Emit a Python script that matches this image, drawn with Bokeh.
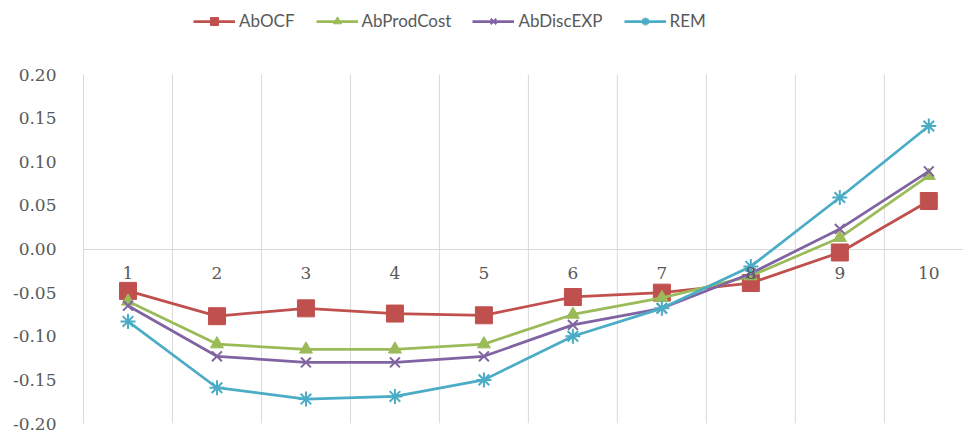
from bokeh.plotting import figure
from bokeh.models import Legend, LegendItem, FixedTicker, NumeralTickFormatter, ColumnDataSource
from bokeh.core.properties import value
from bokeh.embed import file_html
from bokeh.resources import INLINE

categories = [1, 2, 3, 4, 5, 6, 7, 8, 9, 10]
cat_labels = ["1", "2", "3", "4", "5", "6", "7", "8", "9", "10"]
ab_ocf = [-0.048, -0.077, -0.068, -0.074, -0.076, -0.055, -0.050, -0.039, -0.004, 0.055]
ab_prod_cost = [-0.060, -0.109, -0.115, -0.115, -0.109, -0.075, -0.056, -0.031, 0.013, 0.084]
ab_disc_exp = [-0.065, -0.123, -0.130, -0.130, -0.123, -0.087, -0.068, -0.028, 0.023, 0.089]
rem = [-0.083, -0.159, -0.172, -0.169, -0.150, -0.100, -0.068, -0.020, 0.059, 0.141]
y_ticks = [-0.20, -0.15, -0.10, -0.05, 0.00, 0.05, 0.10, 0.15, 0.20]

y_lo, y_hi = min(y_ticks), max(y_ticks)
# frame spans the full height; the area above 0.20 holds the legend
y_top = y_hi + (y_hi - y_lo) * 74.0 / 349.0

p = figure(width=963, height=432, output_backend="svg", toolbar_location=None,
           x_range=(0.5, 10.39), y_range=(y_lo, y_top),
           min_border_left=83, min_border_right=0, min_border_bottom=9, min_border_top=0)
p.outline_line_color = None
p.xaxis.visible = False

p.yaxis.ticker = FixedTicker(ticks=y_ticks)
p.yaxis.bounds = (y_lo, y_hi)
p.yaxis.formatter = NumeralTickFormatter(format="0.00")
p.yaxis.major_tick_line_color = None
p.yaxis.minor_tick_line_color = None
p.yaxis.axis_line_color = "#d9d9d9"
p.yaxis.major_label_text_color = "#595959"
p.yaxis.major_label_text_font = "DejaVu Serif"
p.yaxis.major_label_text_font_size = "17px"
p.yaxis.major_label_standoff = 21

p.xgrid.grid_line_color = None
p.ygrid.ticker = FixedTicker(ticks=[0.0])
p.ygrid.grid_line_color = "#d9d9d9"

# vertical gridlines at category boundaries, spanning the value axis
bounds_x = [c + 0.5 for c in categories]
p.segment(x0=bounds_x, x1=bounds_x, y0=[y_lo] * len(bounds_x), y1=[y_hi] * len(bounds_x),
          line_color="#d9d9d9", line_width=1)

series = [
    ("AbOCF", ab_ocf, "#C0504D", "square", 17),
    ("AbProdCost", ab_prod_cost, "#9BBB59", "triangle", 13),
    ("AbDiscEXP", ab_disc_exp, "#8064A2", "x", 14),
    ("REM", rem, "#4BACC6", "asterisk", 15),
]
items = []
for name, vals, col, mk, sz in series:
    src = ColumnDataSource(dict(x=categories, y=vals))
    ln = p.line("x", "y", source=src, line_color=col, line_width=2.75)
    if mk in ("x", "asterisk"):
        sc = p.scatter("x", "y", source=src, marker=mk, size=sz, line_color=col, line_width=2)
    else:
        sc = p.scatter("x", "y", source=src, marker=mk, size=sz, fill_color=col, line_color=col)
    items.append(LegendItem(label=name, renderers=[ln, sc]))

lab_src = ColumnDataSource(dict(x=categories, y=[0.0] * len(categories), t=cat_labels))
p.text("x", "y", text="t", source=lab_src, text_align="center", text_baseline="middle",
       y_offset=24, text_font=value("DejaVu Serif"), text_font_size="17px",
       text_color="#595959")

legend = Legend(items=items, orientation="horizontal", location=(110, 392))
legend.border_line_color = None
legend.background_fill_alpha = 0
legend.label_text_font = "Lato"
legend.label_text_font_size = "17px"
legend.label_text_color = "#595959"
legend.glyph_width = 42
legend.spacing = 21
legend.label_standoff = 4
legend.margin = 0
legend.padding = 8
p.add_layout(legend, "center")

open("out.html", "w").write(file_html(p, INLINE))
